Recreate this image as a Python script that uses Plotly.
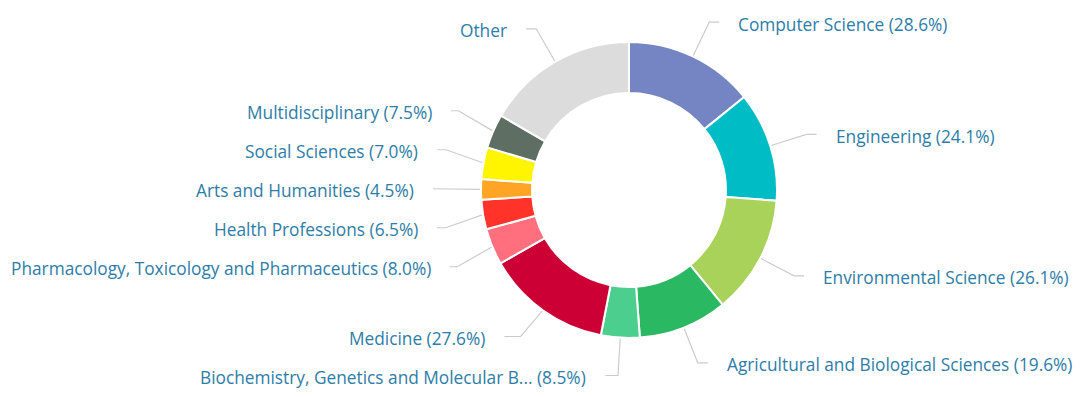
import math
import plotly.graph_objects as go

# Subject areas (clockwise from 12 o'clock) and their shares
categories = [
    "Computer Science",
    "Engineering",
    "Environmental Science",
    "Agricultural and Biological Sciences",
    "Biochemistry, Genetics and Molecular B...",
    "Medicine",
    "Pharmacology, Toxicology and Pharmaceutics",
    "Health Professions",
    "Arts and Humanities",
    "Social Sciences",
    "Multidisciplinary",
    "Other",
]
shares = [28.6, 24.1, 26.1, 19.6, 8.5, 27.6, 8.0, 6.5, 4.5, 7.0, 7.5, 33.5]
show_share = [True] * 11 + [False]
colors = [
    "#7584C3", "#00BDC5", "#A9D25A", "#2BB862", "#4CCF8E", "#CC0035",
    "#FF6F7D", "#FF3329", "#FFA424", "#FFF500", "#5E6E63", "#DCDCDC",
]

W, H = 1089, 397
CX, CY = 629.0, 190.0      # donut centre (px)
R_OUT = 148.0              # outer radius (px)
HOLE = 0.655
LABEL_DIST = 38.0          # distance from ring to label break point
LABEL_GAP = 39.0           # min vertical spacing between labels
TEXT_COLOR = "#2D7DA8"
LINE_COLOR = "#CCCCCC"
FONT = "Open Sans"
FONT_SIZE = 17.3

R_LAB = R_OUT + LABEL_DIST
total = sum(shares)

# mid-angle of every slice, measured clockwise from the top
mids = []
acc = 0.0
for v in shares:
    mids.append((acc + v / 2) / total * 2 * math.pi)
    acc += v


def place(cluster, lo, hi, gap):
    mean = sum(t[1] for t in cluster) / len(cluster)
    start = mean - gap * (len(cluster) - 1) / 2
    return max(lo, min(start, hi - gap * (len(cluster) - 1)))


def distribute(items, lo, hi, gap):
    """Spread (index, y) pairs so neighbours are at least `gap` apart."""
    clusters = [[it] for it in sorted(items, key=lambda t: t[1])]
    merged = True
    while merged:
        merged = False
        starts = [place(cl, lo, hi, gap) for cl in clusters]
        for k in range(len(clusters) - 1):
            if starts[k + 1] < starts[k] + gap * len(clusters[k]) - 1e-9:
                clusters[k] = clusters[k] + clusters.pop(k + 1)
                merged = True
                break
    out = {}
    for cl in clusters:
        s = place(cl, lo, hi, gap)
        for k, t in enumerate(cl):
            out[t[0]] = s + k * gap
    return out


right, left = [], []
for i, a in enumerate(mids):
    ny = CY - R_LAB * math.cos(a)
    (right if math.sin(a) > 0 else left).append((i, ny))

y_lo, y_hi = CY - R_LAB + 0.5, CY + R_LAB - 0.5
label_y = {}
label_y.update(distribute(right, y_lo, y_hi, LABEL_GAP))
label_y.update(distribute(left, y_lo, y_hi, LABEL_GAP))

fig = go.Figure()

fig.add_trace(go.Pie(
    labels=categories,
    values=shares,
    sort=False,
    direction="clockwise",
    rotation=0,
    hole=HOLE,
    marker=dict(colors=colors, line=dict(color="#FFFFFF", width=2)),
    textinfo="none",
    hoverinfo="skip",
    showlegend=False,
    domain=dict(
        x=[(CX - R_OUT) / W, (CX + R_OUT) / W],
        y=[(H - CY - R_OUT) / H, (H - CY + R_OUT) / H],
    ),
))

annotations = []
for i, a in enumerate(mids):
    side = 1 if math.sin(a) > 0 else -1
    y = label_y[i]
    dy = max(-R_LAB, min(R_LAB, y - CY))
    end_x = CX + side * (math.sqrt(R_LAB ** 2 - dy ** 2) + 10)
    crook_x = CX + R_LAB * math.sin(a)
    sx = CX + R_OUT * math.sin(a)
    sy = CY - R_OUT * math.cos(a)
    xs, ys = [end_x], [y]
    if side * (end_x - crook_x) > 0 and side * (crook_x - sx) > 0:
        xs.append(crook_x)
        ys.append(y)
    xs.append(sx)
    ys.append(sy)
    fig.add_trace(go.Scatter(
        x=xs, y=ys, mode="lines",
        line=dict(color=LINE_COLOR, width=1.2),
        hoverinfo="skip", showlegend=False,
    ))
    txt = categories[i] + (f" ({shares[i]:.1f}%)" if show_share[i] else "")
    annotations.append(dict(
        x=end_x + side * 17, y=y + 2, xref="x", yref="y",
        text=txt, showarrow=False,
        xanchor="left" if side > 0 else "right", yanchor="middle",
        font=dict(family=FONT, size=FONT_SIZE, color=TEXT_COLOR),
    ))

fig.update_layout(
    width=W, height=H,
    margin=dict(l=0, r=0, t=0, b=0),
    paper_bgcolor="#FFFFFF", plot_bgcolor="rgba(0,0,0,0)",
    xaxis=dict(range=[0, W], visible=False, fixedrange=True),
    yaxis=dict(range=[H, 0], visible=False, fixedrange=True),
    annotations=annotations,
    hovermode=False,
)

fig.write_html("out.html")
